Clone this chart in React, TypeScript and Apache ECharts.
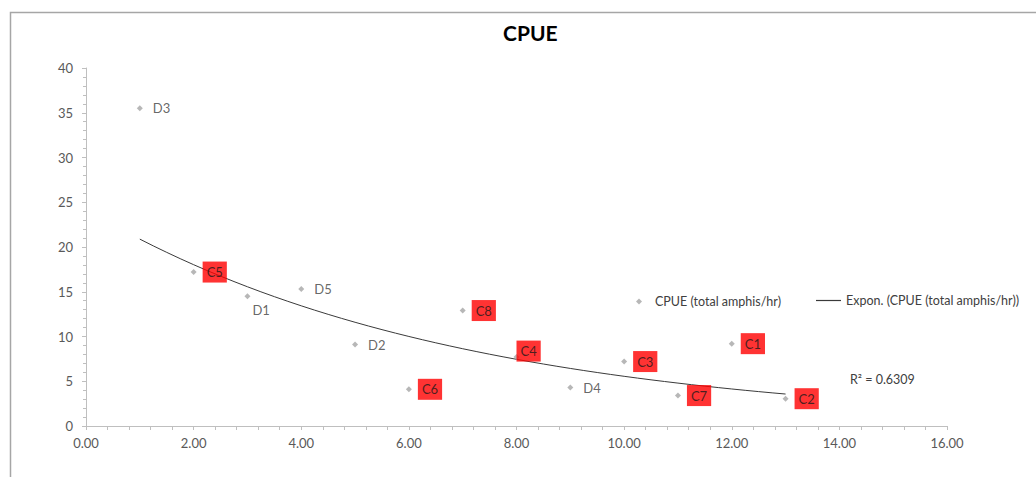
import React, { useEffect, useRef } from "react";
import * as echarts from "echarts";

const siteNames = ["D3", "C5", "D1", "D5", "D2", "C6", "C8", "C4", "D4", "C3", "C7", "C1", "C2"];
const hours = [1, 2, 3, 4, 5, 6, 7, 8, 9, 10, 11, 12, 13];
const cpue = [35.5, 17.2, 14.5, 15.3, 9.1, 4.1, 12.9, 7.7, 4.3, 7.2, 3.4, 9.2, 3.05];
const r2Text = "R² = 0.6309";
const seriesName = "CPUE (total amphis/hr)";
const trendName = "Expon. (CPUE (total amphis/hr))";

const FONT = "Lato, 'Liberation Sans', sans-serif";

function expFit(xs: number[], ys: number[]) {
  const n = xs.length;
  const ly = ys.map((v) => Math.log(v));
  const mx = xs.reduce((a, b) => a + b, 0) / n;
  const my = ly.reduce((a, b) => a + b, 0) / n;
  let sxy = 0;
  let sxx = 0;
  for (let i = 0; i < n; i++) {
    sxy += (xs[i] - mx) * (ly[i] - my);
    sxx += (xs[i] - mx) * (xs[i] - mx);
  }
  const b = sxy / sxx;
  const a = Math.exp(my - b * mx);
  return { a, b };
}

export default function App() {
  const ref = useRef<HTMLDivElement>(null);
  useEffect(() => {
    document.body.style.margin = "0";
    if (!ref.current) return;
    const chart = echarts.init(ref.current, null, { renderer: "svg" });
    const { a, b } = expFit(hours, cpue);
    const xMin = Math.min(...hours);
    const xMax = Math.max(...hours);
    const trend: number[][] = [];
    const steps = 48;
    for (let i = 0; i <= steps; i++) {
      const x = xMin + ((xMax - xMin) * i) / steps;
      trend.push([x, a * Math.exp(b * x)]);
    }
    const pts = hours.map((x, i) => {
      const name = siteNames[i];
      const isC = name.startsWith("C");
      const label: any = {
        show: true,
        position: "right",
        distance: 6,
        padding: [4, 4, 4, 4],
        formatter: "{b}",
        fontFamily: FONT,
        fontSize: 13,
        color: isC ? "#1a1a1a" : "#404040",
        backgroundColor: isC ? "#ff0000" : "transparent",
      };
      if (name === "D1") label.offset = [-8, 14];
      if (name === "C4") label.offset = [-9, -6];
      return { name, value: [x, cpue[i]], label };
    });
    chart.setOption({
      animation: false,
      backgroundColor: "#ffffff",
      title: {
        text: "CPUE",
        left: 503,
        top: 22,
        padding: 0,
        textStyle: { fontFamily: FONT, fontSize: 21, fontWeight: "bold", color: "#000" },
      },
      grid: { left: 86, right: 89, top: 68, bottom: 51 },
      legend: [
        {
          data: [seriesName],
          left: 636,
          top: 295,
          padding: 0,
          itemWidth: 6,
          itemHeight: 6,
          textStyle: { fontFamily: FONT, fontSize: 12.5, color: "#404040", padding: [0, 0, 0, 8] },
        },
        {
          data: [{ name: trendName, icon: "rect" }],
          left: 816,
          top: 294,
          padding: 0,
          itemWidth: 25,
          itemHeight: 1.2,
          textStyle: { fontFamily: FONT, fontSize: 12.5, color: "#404040" },
        },
      ],
      xAxis: {
        type: "value",
        min: 0,
        max: 16,
        interval: 2,
        axisLine: { show: true, lineStyle: { color: "#bfbfbf", width: 1 } },
        axisTick: { show: true, length: 4, lineStyle: { color: "#bfbfbf" } },
        minorTick: { show: true, splitNumber: 5, length: 4, lineStyle: { color: "#bfbfbf" } },
        splitLine: { show: false },
        axisLabel: {
          margin: 10,
          fontFamily: FONT,
          fontSize: 13,
          color: "#595959",
          formatter: (v: number) => v.toFixed(2),
        },
      },
      yAxis: {
        type: "value",
        min: 0,
        max: 40,
        interval: 5,
        axisLine: { show: true, lineStyle: { color: "#bfbfbf", width: 1 } },
        axisTick: { show: true, length: 4, lineStyle: { color: "#bfbfbf" } },
        minorTick: { show: true, splitNumber: 5, length: 3, lineStyle: { color: "#bfbfbf" } },
        splitLine: { show: false },
        axisLabel: { margin: 13, fontFamily: FONT, fontSize: 13, color: "#595959" },
      },
      series: [
        {
          name: seriesName,
          type: "scatter",
          symbol: "diamond",
          symbolSize: 6,
          itemStyle: { color: "#a5a5a5" },
          data: pts,
          z: 3,
        },
        {
          name: trendName,
          type: "line",
          showSymbol: false,
          symbol: "none",
          smooth: false,
          lineStyle: { color: "#3a3a3a", width: 1 },
          itemStyle: { color: "#3a3a3a" },
          data: trend,
          z: 2,
        },
      ],
      graphic: [
        {
          type: "rect",
          shape: { x: 10.5, y: 12.5, width: 1200, height: 600 },
          style: { fill: "none", stroke: "#a6a6a6", lineWidth: 1.5 },
          silent: true,
        },
        {
          type: "text",
          left: 850,
          top: 373,
          style: { text: r2Text, fontFamily: FONT, fontSize: 12.5, fill: "#404040" },
        },
      ],
    });
    return () => chart.dispose();
  }, []);
  return <div ref={ref} style={{ width: 1036, height: 477 }} />;
}
